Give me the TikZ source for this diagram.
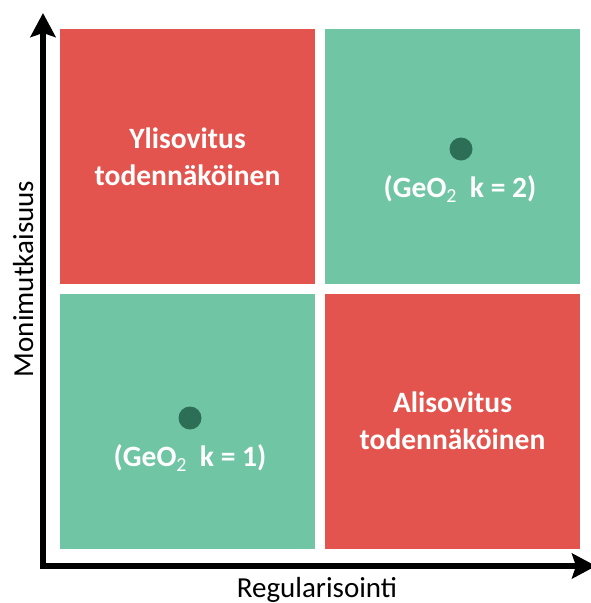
\documentclass[tikz,border=0pt]{standalone}
\usepackage{fontspec}
\setmainfont{Carlito}
\usetikzlibrary{arrows.meta}
\definecolor{boxred}{RGB}{226,84,77}
\definecolor{boxgreen}{RGB}{112,197,164}
\definecolor{dotgreen}{RGB}{45,110,87}
\newcommand{\subtwo}{\raisebox{-5.5pt}{\fontsize{20}{24}\selectfont\mdseries 2}}
\tikzset{
  quad/.style={draw=none, minimum width=255pt, minimum height=255pt, inner sep=0pt,
    text=white, font=\fontsize{29.5}{37}\selectfont\bfseries, align=center},
  redq/.style={quad, fill=boxred},
  greenq/.style={quad, fill=boxgreen},
  pt/.style={circle, fill=dotgreen, minimum size=23pt, inner sep=0pt},
  lbl/.style={text=white, font=\fontsize{29.5}{36}\selectfont\bfseries, anchor=base, inner sep=0pt},
  axislbl/.style={font=\fontsize{29}{36}\selectfont, anchor=base, inner sep=0pt},
  axis/.style={line width=6pt, line join=miter,
    {Stealth[length=24pt, width=25pt, inset=4pt]}-{Stealth[length=24pt, width=25pt, inset=4pt]}}
}
\begin{document}
\begin{tikzpicture}[x=1pt, y=-1pt]
\useasboundingbox (0,0) rectangle (590,603);
\node[redq] (tl) at (187.5,156.5) {Ylisovitus\\todennäköinen};
\node[greenq] (tr) at (452.5,156.5) {};
\node[greenq] (bl) at (187.5,421) {};
\node[redq] (br) at (452.5,421) {Alisovitus\\todennäköinen};
\node[pt] (d2) at (461,149) {};
\node[pt] (d1) at (190,418) {};
\node[lbl] (l2) at (460,197) {(GeO\subtwo\ \ k = 2)};
\node[lbl] (l1) at (190,466) {(GeO\subtwo\ \ k = 1)};
\coordinate (ytip) at (43,13);
\coordinate (origin) at (43,566);
\coordinate (xtip) at (596,566);
\draw[axis] (ytip) -- (origin) -- (xtip);
\node[axislbl, rotate=90] (ylab) at (33,279) {Monimutkaisuus};
\node[axislbl] (xlab) at (317,597) {Regularisointi};
\end{tikzpicture}
\end{document}
